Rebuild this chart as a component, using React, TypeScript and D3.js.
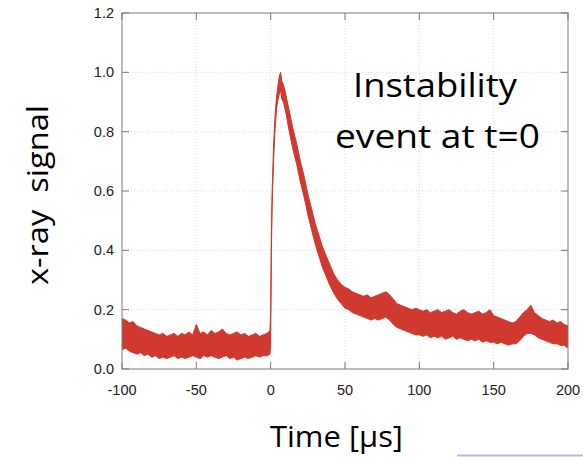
import React from "react";
import * as d3 from "d3";

const xTicks = [-100, -50, 0, 50, 100, 150, 200];
const yTicks = [0.0, 0.2, 0.4, 0.6, 0.8, 1.0, 1.2];

const times = [
  -100, -97.5, -95, -92.5, -90, -87.5, -85, -82.5, -80, -77.5, -75, -72.5, -70, -67.5, -65, -62.5, -60, -57.5, -55, -52.5,
  -50, -47.5, -45, -42.5, -40, -37.5, -35, -32.5, -30, -27.5, -25, -22.5, -20, -17.5, -15, -12.5, -10, -7.5, -5, -2.5, -0.5,
  0, 0.5, 1, 2, 3, 4, 5, 6, 6.7, 7.5, 8.5, 10, 12.5, 15, 17.5, 20, 22.5, 25, 27.5, 30, 32.5, 35, 37.5, 40, 42.5, 45, 47.5,
  50, 52.5, 55, 57.5, 60, 62.5, 65, 67.5, 70, 72.5, 75, 77.5, 80, 82.5, 85, 87.5, 90, 92.5, 95, 97.5,
  100, 102.5, 105, 107.5, 110, 112.5, 115, 117.5, 120, 122.5, 125, 127.5, 130, 132.5, 135, 137.5, 140, 142.5, 145, 147.5,
  150, 152.5, 155, 157.5, 160, 162.5, 165, 167.5, 170, 172.5, 175, 177.5, 180, 182.5, 185, 187.5, 190, 192.5, 195, 197.5, 200,
];

const upper = [
  0.17, 0.165, 0.155, 0.16, 0.145, 0.14, 0.135, 0.13, 0.125, 0.12, 0.115, 0.12, 0.11, 0.115, 0.12, 0.11, 0.12, 0.115, 0.125, 0.115,
  0.15, 0.12, 0.125, 0.115, 0.13, 0.12, 0.125, 0.135, 0.12, 0.115, 0.12, 0.125, 0.115, 0.12, 0.11, 0.115, 0.12, 0.11, 0.115, 0.12, 0.13,
  0.2, 0.45, 0.6, 0.76, 0.86, 0.92, 0.96, 0.99, 1.0, 0.97, 0.96, 0.93, 0.87, 0.81, 0.76, 0.7, 0.65, 0.59, 0.54, 0.49, 0.45, 0.41, 0.38, 0.35, 0.32, 0.3, 0.285,
  0.275, 0.27, 0.26, 0.255, 0.25, 0.245, 0.25, 0.24, 0.245, 0.25, 0.255, 0.26, 0.25, 0.235, 0.22, 0.215, 0.21, 0.205, 0.2, 0.205,
  0.2, 0.195, 0.2, 0.19, 0.195, 0.2, 0.19, 0.195, 0.2, 0.19, 0.185, 0.195, 0.2, 0.19, 0.185, 0.19, 0.195, 0.185, 0.19, 0.2,
  0.18, 0.175, 0.17, 0.165, 0.16, 0.155, 0.16, 0.175, 0.19, 0.2, 0.215, 0.19, 0.18, 0.17, 0.165, 0.16, 0.165, 0.155, 0.16, 0.15, 0.145,
];

const lower = [
  0.065, 0.07, 0.06, 0.055, 0.05, 0.055, 0.045, 0.05, 0.04, 0.045, 0.035, 0.04, 0.035, 0.04, 0.045, 0.035, 0.04, 0.035, 0.04, 0.045,
  0.04, 0.035, 0.045, 0.04, 0.045, 0.04, 0.035, 0.04, 0.045, 0.035, 0.04, 0.03, 0.035, 0.04, 0.035, 0.04, 0.045, 0.04, 0.045, 0.045, 0.05,
  0.08, 0.4, 0.55, 0.71, 0.81, 0.88, 0.91, 0.93, 0.94, 0.91, 0.9, 0.87, 0.8, 0.74, 0.69, 0.63, 0.58, 0.52, 0.47, 0.42, 0.38, 0.34, 0.31, 0.28, 0.255, 0.235, 0.22,
  0.205, 0.2, 0.19, 0.185, 0.18, 0.175, 0.17, 0.165, 0.17, 0.165, 0.17, 0.175, 0.165, 0.15, 0.14, 0.135, 0.13, 0.125, 0.12, 0.115,
  0.115, 0.11, 0.115, 0.105, 0.11, 0.105, 0.11, 0.1, 0.105, 0.11, 0.1, 0.105, 0.1, 0.095, 0.1, 0.095, 0.1, 0.09, 0.095, 0.09,
  0.09, 0.085, 0.09, 0.085, 0.08, 0.085, 0.085, 0.095, 0.11, 0.12, 0.12, 0.115, 0.105, 0.1, 0.095, 0.09, 0.085, 0.085, 0.08, 0.08, 0.07,
];

const W = 583;
const H = 457;
const left = 122;
const right = 568;
const top = 13;
const bottom = 369;
const red = "#d0392f";

export default function App() {
  const x = d3.scaleLinear().domain([-100, 200]).range([left, right]);
  const y = d3.scaleLinear().domain([0, 1.2]).range([bottom, top]);
  const pts = times.map((t, i) => ({ t, u: upper[i], l: lower[i] }));
  const area = d3
    .area<{ t: number; u: number; l: number }>()
    .x((d) => x(d.t))
    .y0((d) => y(d.l))
    .y1((d) => y(d.u));
  const upLine = d3.line<{ t: number; u: number; l: number }>().x((d) => x(d.t)).y((d) => y(d.u));
  const loLine = d3.line<{ t: number; u: number; l: number }>().x((d) => x(d.t)).y((d) => y(d.l));
  const tickLen = 7;
  const axisColor = "#7a7a7a";
  const labelFont = "'Liberation Sans', Arial, sans-serif";
  const bigFont = "'Open Sans', Lato, sans-serif";

  return (
    <svg width={W} height={H} style={{ position: "absolute", left: 0, top: 0, background: "#fff" }}>
      <rect x={0} y={0} width={W} height={H} fill="#fff" />
      {xTicks.slice(1, -1).map((t) => (
        <line key={"gx" + t} x1={x(t)} x2={x(t)} y1={top} y2={bottom} stroke="#dcdcdc" strokeWidth={1} strokeDasharray="1,2" />
      ))}
      {yTicks.slice(1, -1).map((v) => (
        <line key={"gy" + v} x1={left} x2={right} y1={y(v)} y2={y(v)} stroke="#dcdcdc" strokeWidth={1} strokeDasharray="1,2" />
      ))}
      <path d={area(pts) || ""} fill={red} />
      <path d={upLine(pts) || ""} fill="none" stroke={red} strokeWidth={1} />
      <path d={loLine(pts) || ""} fill="none" stroke={red} strokeWidth={1} />
      <rect x={left} y={top} width={right - left} height={bottom - top} fill="none" stroke={axisColor} strokeWidth={1} />
      {xTicks.map((t) => (
        <g key={"xt" + t}>
          <line x1={x(t)} x2={x(t)} y1={bottom} y2={bottom - tickLen} stroke={axisColor} />
          <line x1={x(t)} x2={x(t)} y1={top} y2={top + tickLen} stroke={axisColor} />
          <text x={x(t)} y={395} textAnchor="middle" fontFamily={labelFont} fontSize={14.5} fill="#222">
            {t}
          </text>
        </g>
      ))}
      {yTicks.map((v) => (
        <g key={"yt" + v}>
          <line x1={left} x2={left + tickLen} y1={y(v)} y2={y(v)} stroke={axisColor} />
          <line x1={right} x2={right - tickLen} y1={y(v)} y2={y(v)} stroke={axisColor} />
          <text x={114} y={y(v) + 5} textAnchor="end" fontFamily={labelFont} fontSize={14.5} fill="#222">
            {v.toFixed(1)}
          </text>
        </g>
      ))}
      <text x={270} y={447} fontFamily={bigFont} fontSize={30} fill="#000" textLength={133} lengthAdjust="spacingAndGlyphs">
        Time [µs]
      </text>
      <text
        transform={`translate(48,285) rotate(-90)`}
        fontFamily={bigFont}
        fontSize={30}
        fill="#000"
        textLength={180}
        lengthAdjust="spacingAndGlyphs"
        style={{ whiteSpace: "pre" }}
      >
        {"x-ray  signal"}
      </text>
      <text x={353} y={97} fontFamily={bigFont} fontSize={32} fill="#000" textLength={164} lengthAdjust="spacingAndGlyphs">
        Instability
      </text>
      <text x={335} y={148} fontFamily={bigFont} fontSize={32} fill="#000" textLength={205} lengthAdjust="spacingAndGlyphs">
        event at t=0
      </text>
      <line x1={457} x2={583} y1={455.5} y2={455.5} stroke="#b4bccb" strokeWidth={2} />
    </svg>
  );
}
